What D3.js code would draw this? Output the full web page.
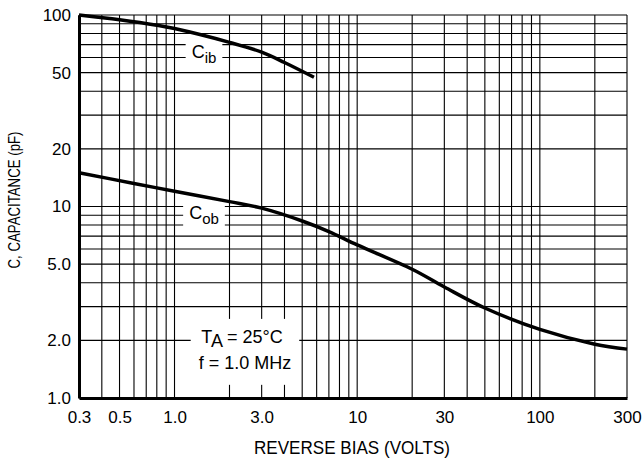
<!DOCTYPE html>
<html>
<head>
<meta charset="utf-8">
<script src="https://cdn.jsdelivr.net/npm/d3@7"></script>
<style>
  body { margin: 0; background: #fff; }
  text { font-family: 'Liberation Sans', Arial, sans-serif; fill: #000; }
</style>
</head>
<body>
<div id="chart"></div>
<script>
// reverse bias (volts) and capacitance (pF)
const cibVoltage = [0.3, 0.5, 0.8, 1.0, 2.0, 3.0, 4.0, 5.8]
const cibCapacitance = [100, 94.5, 88.5, 85, 72, 64, 56.5, 47.3]

const cobVoltage = [0.3, 0.6, 1.0, 2.0, 3.0, 5.0, 7.0, 10, 20, 30, 50, 100, 200, 300]
const cobCapacitance = [15, 13.2, 12, 10.6, 9.8, 8.4, 7.4, 6.3, 4.7, 3.8, 2.95, 2.28, 1.91, 1.8]

const xTicks = [0.3, 0.5, 1, 3, 10, 30, 100, 300]
const xTickLabels = ['0.3', '0.5', '1.0', '3.0', '10', '30', '100', '300']
const yTicks = [1, 2, 5, 10, 20, 50, 100]
const yTickLabels = ['1.0', '2.0', '5.0', '10', '20', '50', '100']

const margin = { top: 15, right: 16, bottom: 62, left: 79 }
const width = 643 - margin.left - margin.right
const height = 460 - margin.top - margin.bottom

const svg = d3
  .select('#chart')
  .append('svg')
  .attr('width', 643)
  .attr('height', 460)
  .append('g')
  .attr('transform', 'translate(' + margin.left + ',' + margin.top + ')')

const xPositionScale = d3.scaleLog().domain([0.3, 300]).range([0, width])
const yPositionScale = d3.scaleLog().domain([1, 100]).range([height, 0])

// log grid: every integer multiple inside each decade
function logGrid(lo, hi) {
  const out = []
  for (let p = 0.1; p <= hi; p *= 10) {
    for (let m = 1; m <= 9; m++) {
      const v = +(m * p).toPrecision(3)
      if (v >= lo - 1e-9 && v <= hi + 1e-9) out.push(v)
    }
  }
  return out
}

const grid = svg.append('g').attr('class', 'grid')

grid
  .selectAll('.vline')
  .data(logGrid(0.3, 300))
  .enter()
  .append('line')
  .attr('x1', d => xPositionScale(d))
  .attr('x2', d => xPositionScale(d))
  .attr('y1', 0)
  .attr('y2', height)
  .attr('stroke', '#000')
  .attr('stroke-width', 1.1)

grid
  .selectAll('.hline')
  .data(logGrid(1, 100))
  .enter()
  .append('line')
  .attr('y1', d => yPositionScale(d))
  .attr('y2', d => yPositionScale(d))
  .attr('x1', 0)
  .attr('x2', width)
  .attr('stroke', '#000')
  .attr('stroke-width', 1.1)

// white boxes behind the labels that sit on the grid
function boxedText(g, padX, padTop, padBottom) {
  const b = g.node().getBBox()
  g.insert('rect', ':first-child')
    .attr('x', b.x - padX)
    .attr('y', b.y - padTop)
    .attr('width', b.width + padX * 2)
    .attr('height', b.height + padTop + padBottom)
    .attr('fill', '#fff')
}

const line = d3
  .line()
  .x(d => xPositionScale(d[0]))
  .y(d => yPositionScale(d[1]))
  .curve(d3.curveCatmullRom.alpha(0.5))

// Cib label
const cibLabel = svg.append('g')
const cibText = cibLabel
  .append('text')
  .attr('x', xPositionScale(1.45))
  .attr('y', yPositionScale(59.5))
  .attr('text-anchor', 'middle')
  .attr('font-size', 18)
cibText.append('tspan').text('C')
cibText.append('tspan').attr('font-size', 15).attr('dy', 5).text('ib')
boxedText(cibLabel, 6, 3, 0)

// Cob label
const cobLabel = svg.append('g')
const cobText = cobLabel
  .append('text')
  .attr('x', xPositionScale(1.45))
  .attr('y', yPositionScale(8.6))
  .attr('text-anchor', 'middle')
  .attr('font-size', 18)
cobText.append('tspan').text('C')
cobText.append('tspan').attr('font-size', 15).attr('dy', 5).text('ob')
boxedText(cobLabel, 6, 3, 0)

// conditions note
const note = svg.append('g')
const noteX = xPositionScale(2.34)
const t1 = note
  .append('text')
  .attr('x', noteX)
  .attr('y', yPositionScale(1.94))
  .attr('text-anchor', 'middle')
  .attr('font-size', 18)
t1.append('tspan').text('T')
t1.append('tspan').attr('dy', 4).text('A')
t1.append('tspan').attr('dy', -4).text(' = 25°C')
note
  .append('text')
  .attr('x', noteX + 3)
  .attr('y', yPositionScale(1.42))
  .attr('text-anchor', 'middle')
  .attr('font-size', 18)
  .text('f = 1.0 MHz')
boxedText(note, 8, 8, 12)

svg
  .append('path')
  .datum(d3.zip(cibVoltage, cibCapacitance))
  .attr('fill', 'none')
  .attr('stroke', '#000')
  .attr('stroke-width', 3.5)
  .attr('d', line)

svg
  .append('path')
  .datum(d3.zip(cobVoltage, cobCapacitance))
  .attr('fill', 'none')
  .attr('stroke', '#000')
  .attr('stroke-width', 3.5)
  .attr('d', line)

// heavy left and bottom axes
const xAxis = d3
  .axisBottom(xPositionScale)
  .tickValues(xTicks)
  .tickSize(0)
  .tickPadding(13)
  .tickFormat((d, i) => xTickLabels[i])

svg
  .append('g')
  .attr('class', 'axis x-axis')
  .attr('transform', 'translate(0,' + height + ')')
  .call(xAxis)

const yAxis = d3
  .axisLeft(yPositionScale)
  .tickValues(yTicks)
  .tickSize(0)
  .tickPadding(8)
  .tickFormat((d, i) => yTickLabels[i])

svg
  .append('g')
  .attr('class', 'axis y-axis')
  .call(yAxis)

svg.selectAll('.axis .domain').attr('stroke', '#000').attr('stroke-width', 3)
svg
  .selectAll('.axis text')
  .attr('font-size', 17)
  .attr('font-family', "'Liberation Sans', Arial, sans-serif")
  .attr('fill', '#000')

svg
  .append('text')
  .attr('x', 352 - margin.left)
  .attr('y', height + 56)
  .attr('text-anchor', 'middle')
  .attr('font-size', 18)
  .attr('textLength', 196)
  .attr('lengthAdjust', 'spacingAndGlyphs')
  .text('REVERSE BIAS (VOLTS)')

svg
  .append('text')
  .attr('transform', 'translate(' + (20 - margin.left) + ',' + (200 - margin.top) + ') rotate(-90)')
  .attr('text-anchor', 'middle')
  .attr('font-size', 17)
  .attr('textLength', 137)
  .attr('lengthAdjust', 'spacingAndGlyphs')
  .text('C, CAPACITANCE (pF)')
</script>
</body>
</html>
